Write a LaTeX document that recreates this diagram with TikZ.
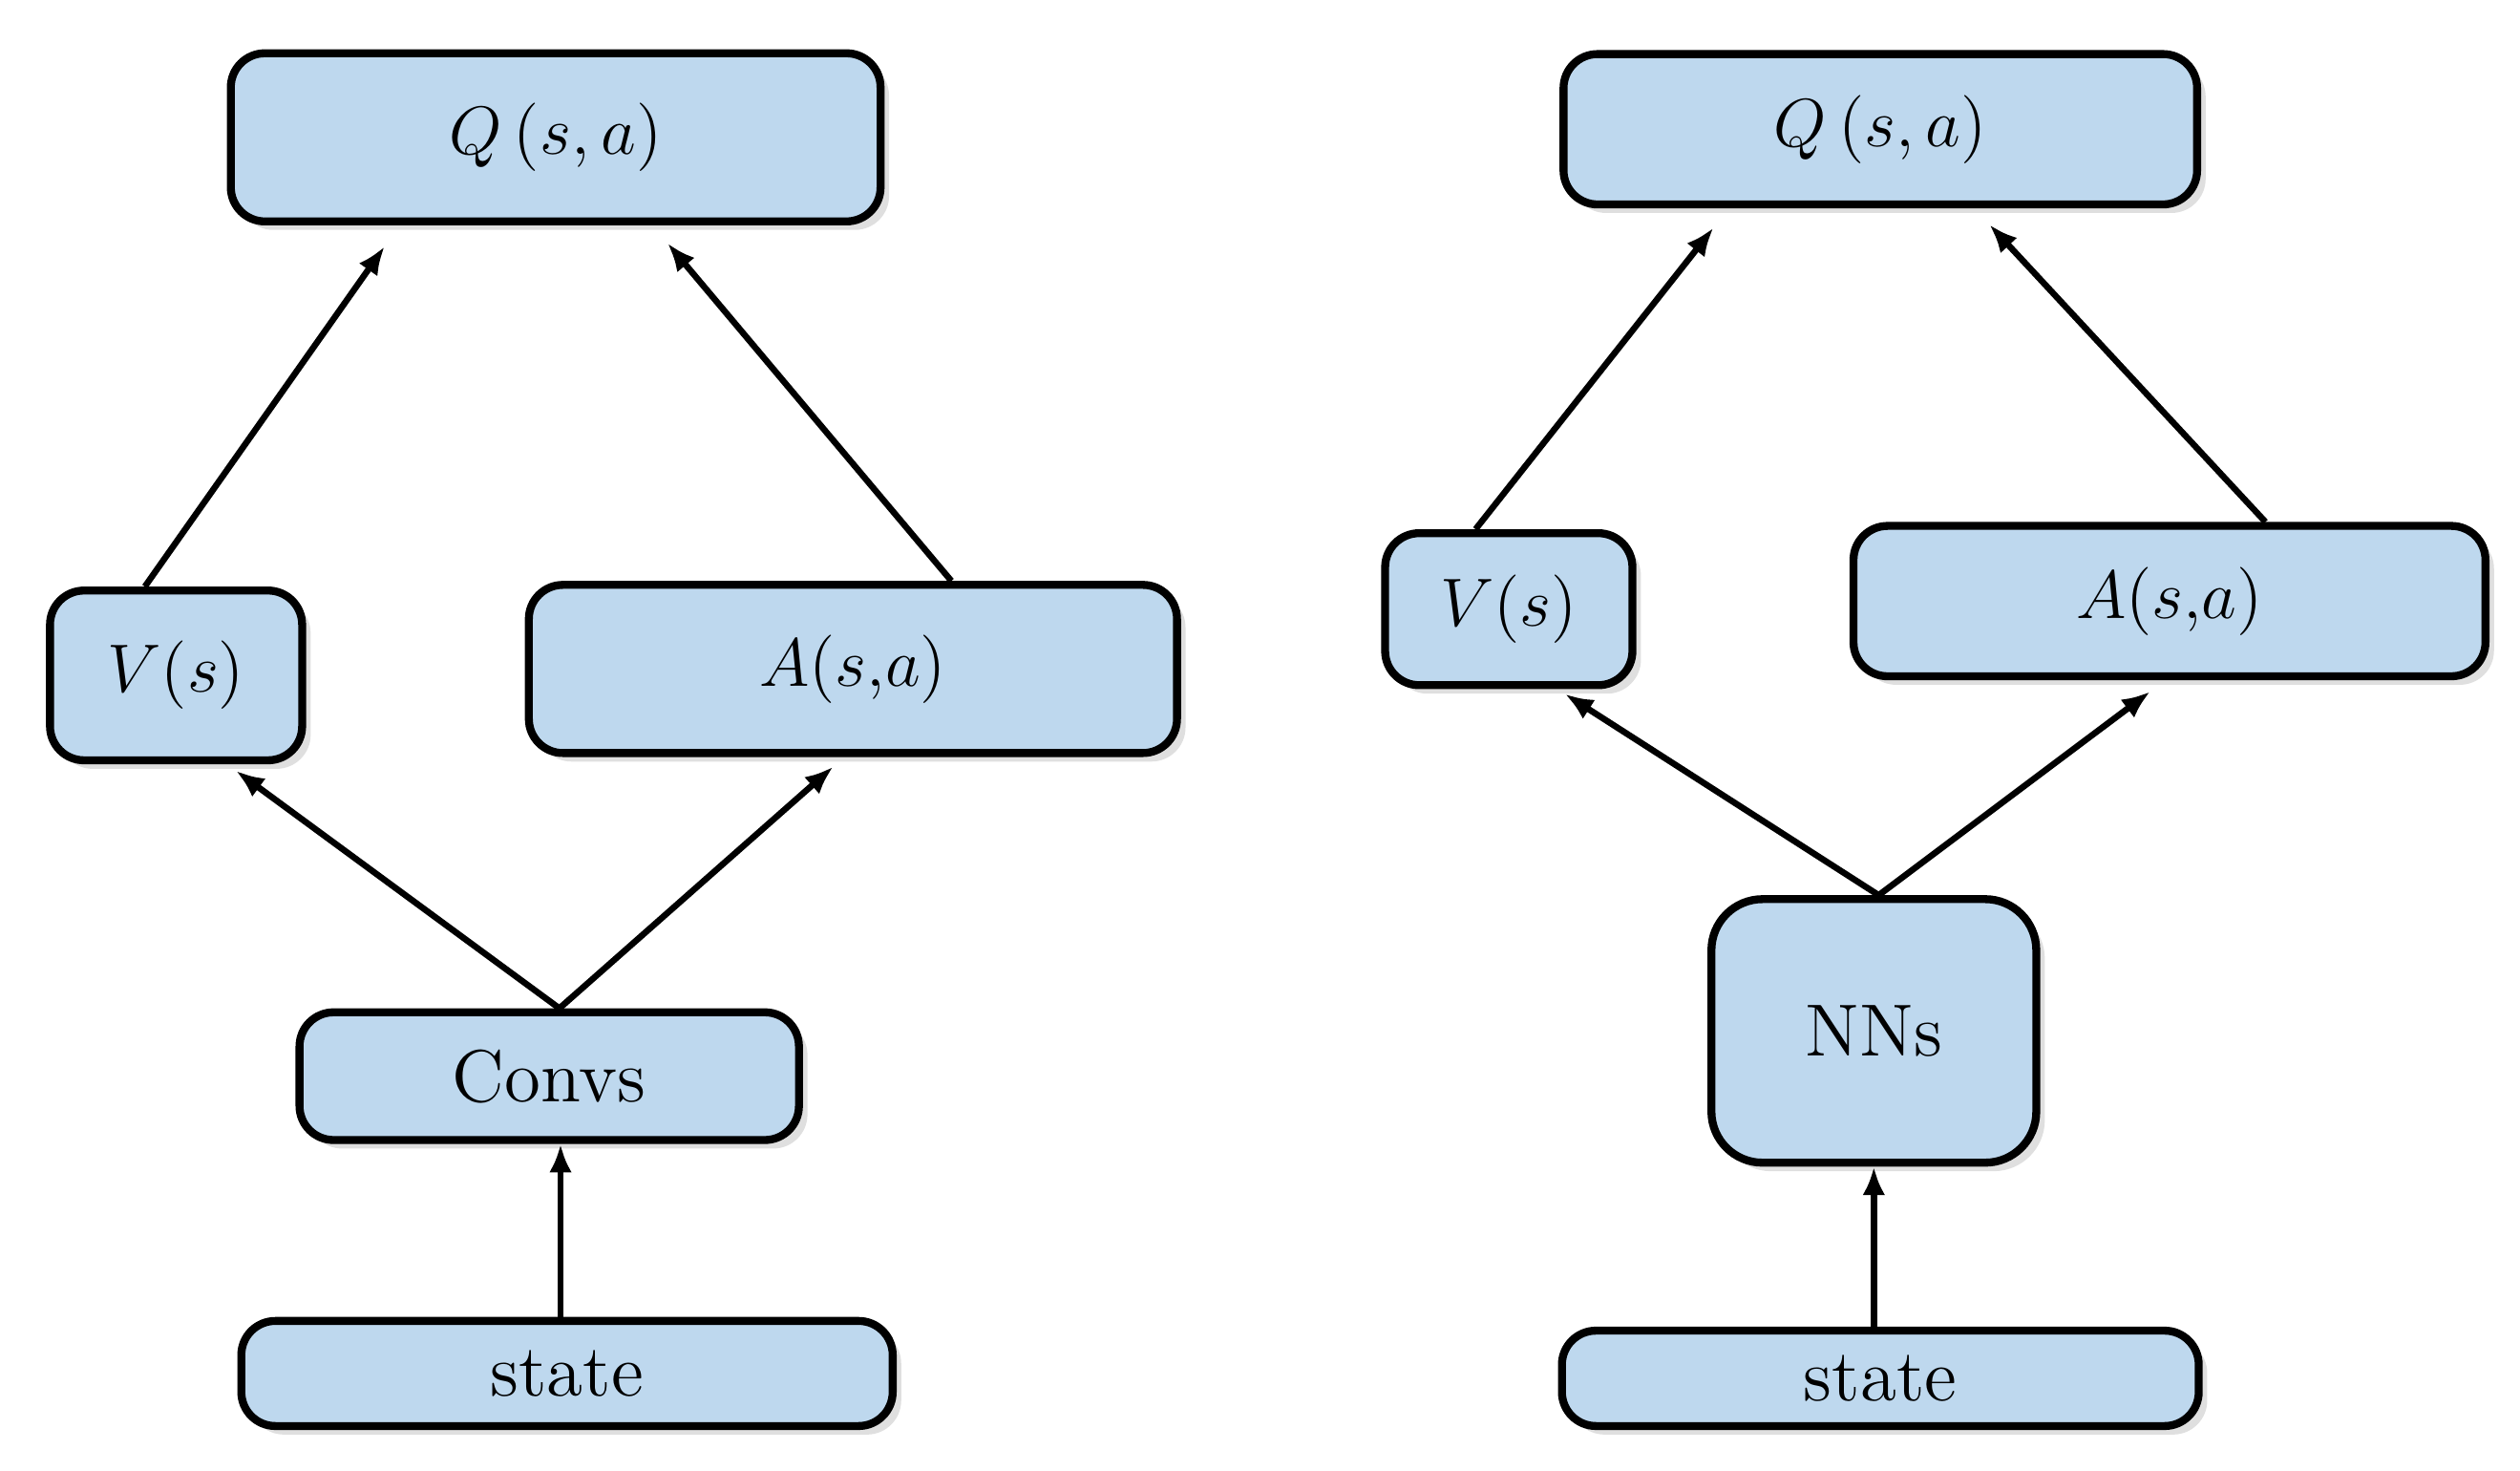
\documentclass[tikz,border=0pt]{standalone}
\usepackage{amsmath}
\usetikzlibrary{calc,shadows,arrows.meta}
\begin{document}
\begin{tikzpicture}[x=0.01cm,y=-0.01cm,join=round]
	\tikzset{blk/.style={draw, line width=1.4pt, rounded corners=6pt, fill=blk, inner sep=0pt,
			drop shadow={shadow xshift=1.5pt, shadow yshift=-1.5pt, opacity=0.25, fill=gray},
			font=\fontsize{13}{15}\selectfont},
		con/.style={line width=1.1pt, -{Latex[length=5pt,width=4pt]}}}
	\definecolor{blk}{RGB}{190,216,238}
	\useasboundingbox (0,0) rectangle (1560,910);
	
	% left network
	\node[blk, minimum width=402\pgflinewidth, minimum width=4.02cm, minimum height=1.04cm] (lq) at (344,85) {$Q\,(s,a)$};
	\node[blk, minimum width=1.56cm, minimum height=1.05cm] (lv) at (109,418) {$V(s)$};
	\node[blk, minimum width=4.01cm, minimum height=1.04cm] (la) at (528,414) {$A(s{,}a)$};
	\node[blk, minimum width=3.09cm, minimum height=0.79cm] (lc) at (340,666) {Convs};
	\node[blk, minimum width=4.03cm, minimum height=0.65cm] (ls) at (351,850) {state};
	
	\draw[con] ($(lv.north west)!0.38!(lv.north east)$) -- ($(lq.south west)!0.24!(lq.south east)+(0,13)$);
	\draw[con] ($(la.north west)!0.65!(la.north east)$) -- ($(lq.south west)!0.67!(lq.south east)+(0,11)$);
	\draw[con] ($(lc.north west)!0.52!(lc.north east)$) -- ($(lv.south west)!0.73!(lv.south east)+(0,4)$);
	\draw[con] ($(lc.north west)!0.52!(lc.north east)$) -- ($(la.south west)!0.47!(la.south east)+(0,6)$);
	\draw[con] ($(ls.north)+(-4,0)$) -- ($(lc.south)+(7,0)$);
	
	% right network
	\node[blk, minimum width=3.92cm, minimum height=0.93cm] (rq) at (1164,80) {$Q\,(s,a)$};
	\node[blk, minimum width=1.53cm, minimum height=0.94cm] (rv) at (934,377) {$V(s)$};
	\node[blk, minimum width=3.91cm, minimum height=0.93cm] (ra) at (1343,372) {$A(s{,}a)$};
	\node[blk, rounded corners=9pt, minimum width=2.01cm, minimum height=1.63cm] (rn) at (1160,638) {NNs};
	\node[blk, minimum width=3.94cm, minimum height=0.59cm] (rs) at (1164,853) {state};
	
	\draw[con] ($(rv.north west)!0.37!(rv.north east)$) -- ($(rq.south west)!0.24!(rq.south east)+(0,12)$);
	\draw[con] ($(ra.north west)!0.65!(ra.north east)$) -- ($(rq.south west)!0.67!(rq.south east)+(0,10)$);
	\draw[con] ($(rn.north)+(3,0)$) -- ($(rv.south west)!0.72!(rv.south east)+(0,3)$);
	\draw[con] ($(rn.north)+(3,0)$) -- ($(ra.south west)!0.47!(ra.south east)+(0,7)$);
	\draw[con] ($(rs.north)+(-4,0)$) -- (rn.south -| {$(rs.north)+(-4,0)$});
\end{tikzpicture}
\end{document}
